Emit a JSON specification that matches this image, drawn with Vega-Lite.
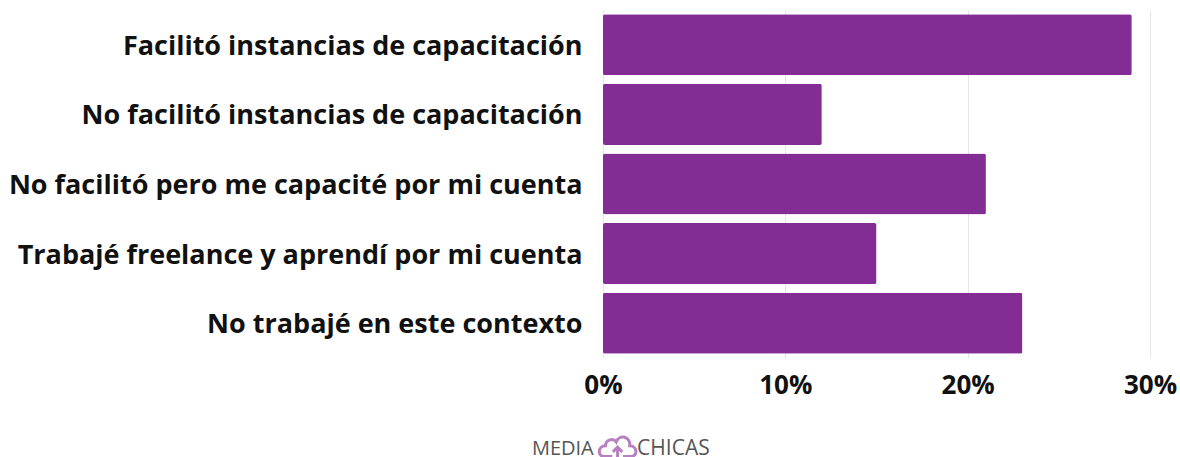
{"$schema":"https://vega.github.io/schema/vega-lite/v6.json","width":547,"height":348,"padding":{"left":603,"top":10,"right":30,"bottom":99},"autosize":"none","background":"white","config":{"view":{"stroke":null}},"data":{"values":[{"c":"Facilitó instancias de capacitación","v":29},{"c":"No facilitó instancias de capacitación","v":12},{"c":"No facilitó pero me capacité por mi cuenta","v":21},{"c":"Trabajé freelance y aprendí por mi cuenta","v":15},{"c":"No trabajé en este contexto","v":23}]},"encoding":{"y":{"field":"c","type":"nominal","sort":null,"scale":{"paddingInner":0.13,"paddingOuter":0.065},"axis":{"title":null,"domain":false,"ticks":false,"labelFont":"Open Sans","labelFontWeight":700,"labelFontSize":27,"labelColor":"#111111","labelPadding":21,"labelLimit":700,"labelOffset":2}},"x":{"field":"v","type":"quantitative","scale":{"domain":[0,30]},"axis":{"title":null,"values":[0,10,20,30],"labelExpr":"datum.value+'%'","domain":false,"ticks":false,"labelFont":"Open Sans","labelFontWeight":700,"labelFontSize":26,"labelColor":"#111111","labelPadding":14,"labelFlush":false,"labelBound":false,"gridColor":"#e6e6e6"}}},"layer":[{"mark":{"type":"bar","color":"#832C94","cornerRadius":2,"size":61}},{"transform":[{"filter":"datum.v==23"}],"mark":{"type":"point","filled":false,"clip":false,"stroke":"#9B4AA8","strokeWidth":3,"size":720,"yOffset":124,"shape":"M-1,0.7 C-1.5,0.7 -1.5,-0.1 -0.9,-0.1 C-0.9,-0.6 -0.3,-0.7 -0.1,-0.4 C0.1,-1 1,-0.8 0.9,-0.1 C1.5,-0.1 1.5,0.7 1,0.7 L0.4,0.7 M-0.4,0.7 L-1,0.7 M0,1 L0,0 M-0.35,0.35 L0,0 L0.35,0.35"},"encoding":{"x":{"datum":0.8}}},{"transform":[{"filter":"datum.v==23"}],"mark":{"type":"text","align":"left","baseline":"middle","font":"Open Sans","fontSize":20,"color":"#555555","yOffset":126},"encoding":{"x":{"datum":-3.9},"text":{"value":"MEDIA"}}},{"transform":[{"filter":"datum.v==23"}],"mark":{"type":"text","align":"left","baseline":"middle","font":"Open Sans","fontSize":21,"color":"#555555","yOffset":126},"encoding":{"x":{"datum":1.87},"text":{"value":"CHICAS"}}}]}
